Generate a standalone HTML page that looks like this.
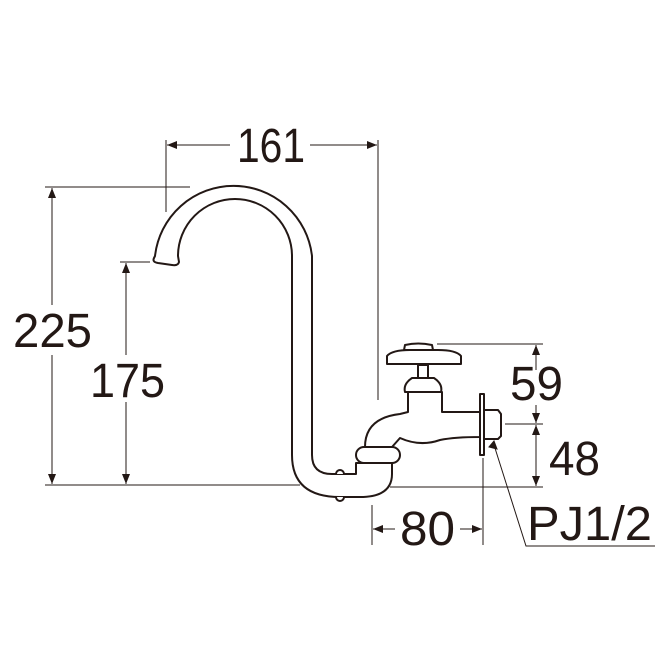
<!DOCTYPE html>
<html><head><meta charset="utf-8"><style>html,body{margin:0;padding:0;background:#fff}svg{display:block}</style></head>
<body>
<svg width="672" height="672" viewBox="0 0 672 672" xmlns="http://www.w3.org/2000/svg">
<defs>
<marker id="a" markerWidth="10" markerHeight="8" refX="10" refY="4" orient="auto" markerUnits="userSpaceOnUse">
<path d="M0,0 L10,4 L0,8 Z" fill="#231815"/></marker>
</defs>
<g stroke="#231815" stroke-width="1" fill="none">
<!-- 161 -->
<line x1="166" y1="140" x2="166" y2="212"/>
<line x1="378" y1="140" x2="378" y2="400"/>
<line x1="230" y1="145" x2="167" y2="145" marker-end="url(#a)"/>
<line x1="310" y1="145" x2="377" y2="145" marker-end="url(#a)"/>
<!-- 225 -->
<line x1="45" y1="187" x2="190" y2="187"/>
<line x1="45" y1="485" x2="300" y2="485"/>
<line x1="52" y1="305" x2="52" y2="188" marker-end="url(#a)"/>
<line x1="52" y1="355" x2="52" y2="484" marker-end="url(#a)"/>
<!-- 175 -->
<line x1="120" y1="262" x2="150" y2="262"/>
<line x1="126" y1="355" x2="126" y2="263" marker-end="url(#a)"/>
<line x1="126" y1="402" x2="126" y2="484" marker-end="url(#a)"/>
<!-- 59 / 48 -->
<line x1="437" y1="344" x2="543" y2="344"/>
<line x1="505" y1="424" x2="543" y2="424"/>
<line x1="390" y1="487" x2="543" y2="487"/>
<line x1="536" y1="370" x2="536" y2="345" marker-end="url(#a)"/>
<line x1="536" y1="405" x2="536" y2="423" marker-end="url(#a)"/>
<line x1="536" y1="440" x2="536" y2="425" marker-end="url(#a)"/>
<line x1="536" y1="440" x2="536" y2="486" marker-end="url(#a)"/>
<!-- 80 -->
<line x1="372" y1="505" x2="372" y2="545"/>
<line x1="483" y1="458" x2="483" y2="545"/>
<line x1="395" y1="529" x2="373" y2="529" marker-end="url(#a)"/>
<line x1="460" y1="529" x2="482" y2="529" marker-end="url(#a)"/>
<!-- PJ leader -->
<polyline points="655,546 526,546 494,445"/>
<path d="M489,447 L494,441 L497,449 Z" fill="#231815"/>
</g>
<g stroke="#231815" stroke-width="2" fill="#fff" stroke-linejoin="round">
<!-- pipe -->
<path d="M155,256 A79,79 0 0 1 312,256 L312,455 Q312,474 332,474 L356,474 L356,463 L392,463 L392,474 Q392,497 360,497 L340,497 Q292,497 292,455 L292,256 A57,57 0 0 0 178,256 L179,262 Q178,266 172,265 L158,263 Q152,262 154,258 Z"/>
<path d="M336,474 a4,4 0 0 1 8,0" fill="#fff"/>
<path d="M336,497 a4,4 0 0 0 8,0" fill="#fff"/>
<!-- faucet body -->
<path d="M365,447 Q365,418 400,414 L408,412 L408,392 L442,392 L442,412 L480,412 L480,437 Q455,437 440,440 Q420,447 400,438 L392,447 Z"/>
<rect x="356" y="447" width="44" height="16" rx="8"/>
<path d="M405,392 Q403,384 412,378 L434,378 Q443,384 441,392 Z"/>
<rect x="418" y="365" width="10" height="13"/>
<path d="M387,364 L387,356 Q392,350 410,350 L438,350 Q456,350 461,356 L461,364 Z"/>
<path d="M404,350 L405,345 Q418,342 432,345 L433,350 Z"/>
<rect x="480" y="394" width="4" height="61"/>
<path d="M484,410 L498,410 L501,414 L501,436 L498,439 L484,439 Z"/>
</g>
<g fill="#231815" font-family="Liberation Sans, sans-serif" font-size="48">
<text x="237" y="162" textLength="68" lengthAdjust="spacingAndGlyphs">161</text>
<text x="13" y="347" textLength="79" lengthAdjust="spacingAndGlyphs">225</text>
<text x="90" y="397" textLength="75" lengthAdjust="spacingAndGlyphs">175</text>
<text x="510" y="400" textLength="53" lengthAdjust="spacingAndGlyphs">59</text>
<text x="549" y="475" textLength="51" lengthAdjust="spacingAndGlyphs">48</text>
<text x="400" y="545" textLength="55" lengthAdjust="spacingAndGlyphs">80</text>
<text x="527" y="540" textLength="125" lengthAdjust="spacingAndGlyphs">PJ1/2</text>
</g>
</svg>
</body></html>
